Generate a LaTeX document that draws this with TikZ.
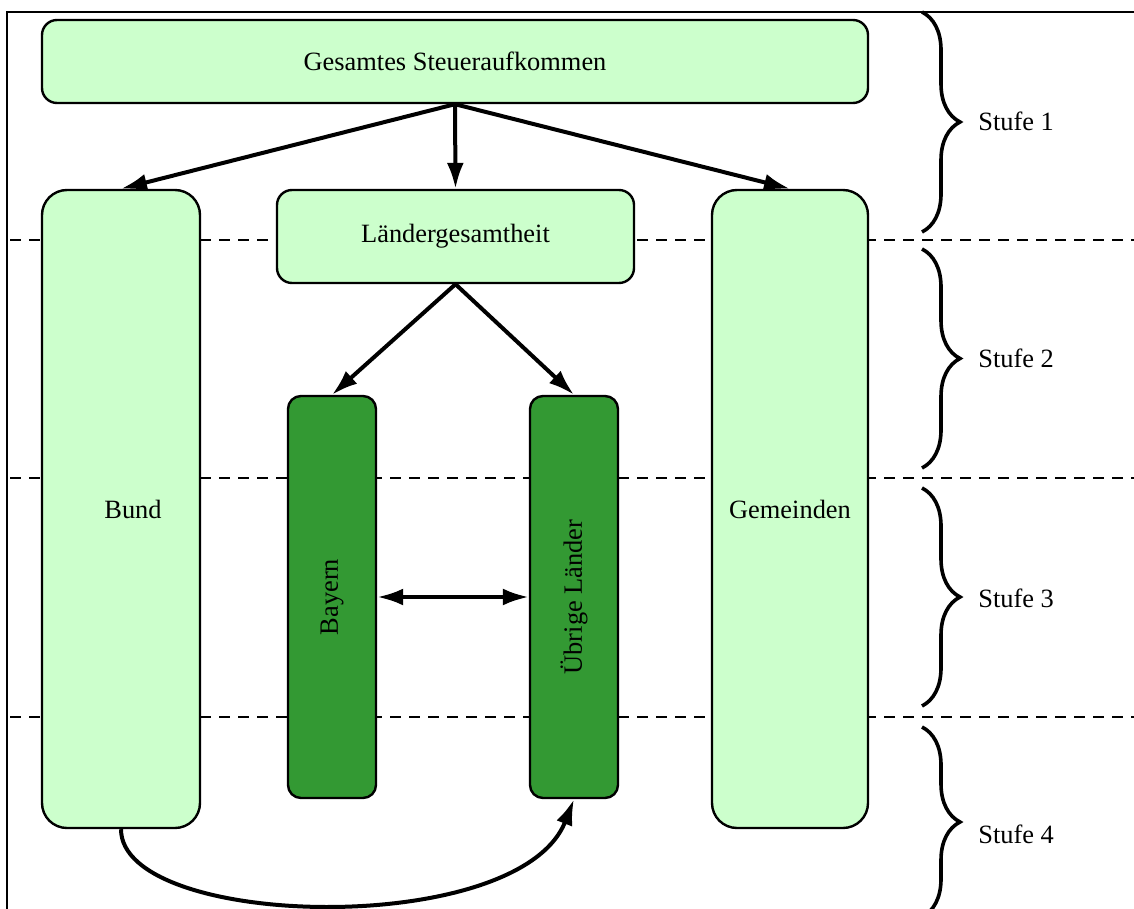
\documentclass[tikz,border=0pt]{standalone}
\usepackage{fontspec}
\setmainfont{Liberation Serif}
\usetikzlibrary{arrows.meta,decorations.pathreplacing}
\definecolor{lightg}{HTML}{CCFFCC}
\definecolor{darkg}{HTML}{339933}
\begin{document}
\begin{tikzpicture}[x=0.5pt,y=-0.5pt,
  font=\fontsize{13.2}{16}\selectfont,
  lbox/.style={draw, line width=1.2pt, fill=lightg, rounded corners=7.5pt, inner sep=0pt, align=center},
  dbox/.style={draw, line width=1.2pt, fill=darkg, rounded corners=6.5pt, inner sep=0pt, minimum width=44pt, minimum height=201pt},
  arr/.style={line width=2pt, -{Latex[length=13pt,width=8.5pt]}},
  darr/.style={line width=2pt, {Latex[length=13pt,width=8.5pt]}-{Latex[length=13pt,width=8.5pt]}},
  sep/.style={line width=1.2pt, dash pattern=on 5.5pt off 4pt},
  bracestyle/.style={line width=1.8pt, decorate, decoration={brace, amplitude=19pt}},
  stufe/.style={anchor=west, inner sep=0pt}]
\useasboundingbox (0,0) rectangle (1134,909);
% frame
\draw[line width=1.2pt] (7,909) -- (7,12) -- (1134,12);
% dashed level separators
\draw[sep] (10,240) -- (1134,240);
\draw[sep] (10,478) -- (1134,478);
\draw[sep] (10,717) -- (1134,717);
% boxes
\node[lbox, minimum width=413pt, minimum height=41.5pt] (ges) at (455,61.5) {Gesamtes Steueraufkommen};
\node[lbox, rounded corners=12.5pt, minimum width=79pt, minimum height=319pt] (bund) at (121,509) {\hspace*{12pt}Bund};
\node[lbox, minimum width=178.5pt, minimum height=46.5pt] (lg) at (455.5,236.5) {Ländergesamtheit};
\node[lbox, rounded corners=12.5pt, minimum width=78pt, minimum height=319pt] (gem) at (790,509) {Gemeinden};
\node[dbox] (bay) at (332,597) {\rotatebox{90}{Bayern}};
\node[dbox] (ueb) at (574,597) {\rotatebox{90}{Übrige Länder}};
% arrows
\draw[arr] (ges.south) -- (bund.north);
\draw[arr] (ges.south) -- (lg.north);
\draw[arr] (ges.south) -- (gem.north);
\draw[arr] (lg.south) -- (bay.north);
\draw[arr] (lg.south) -- (ueb.north);
\draw[darr] (bay.east) -- (ueb.west);
\draw[arr] (bund.south) .. controls +(0,100) and +(-55,140) .. (ueb.south);
% braces
\draw[bracestyle] (922,12) -- (922,232);
\draw[bracestyle] (922,249) -- (922,468);
\draw[bracestyle] (922,488) -- (922,706);
\draw[bracestyle] (922,727) -- (922,917);
\node[stufe] (s1) at (978,121) {Stufe 1};
\node[stufe] (s2) at (978,358) {Stufe 2};
\node[stufe] (s3) at (978,598) {Stufe 3};
\node[stufe] (s4) at (978,834) {Stufe 4};
\end{tikzpicture}
\end{document}
